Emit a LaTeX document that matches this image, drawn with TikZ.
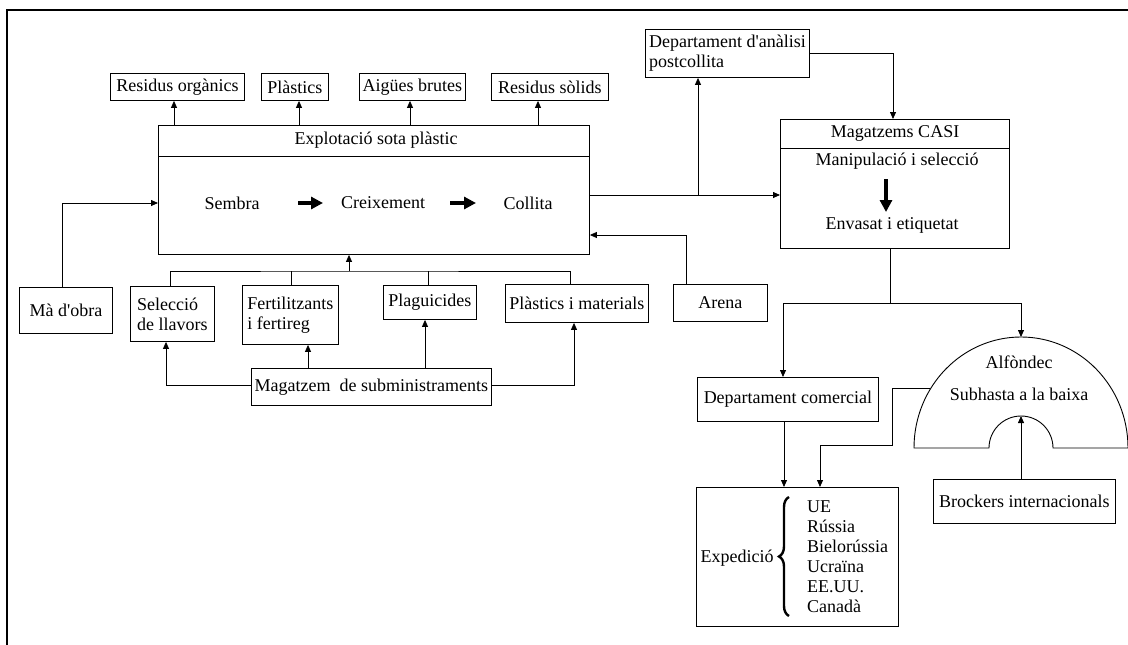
\documentclass[tikz,border=0pt]{standalone}
\usepackage{fontspec}
\setmainfont{Liberation Serif}
\usetikzlibrary{arrows.meta,decorations.pathreplacing}
\begin{document}
\begin{tikzpicture}[x=1pt,y=-1pt,
  font=\fontsize{18}{20}\selectfont,
  box/.style={draw, line width=0.9pt, inner sep=0pt, anchor=north west},
  conn/.style={line width=0.8pt, -{Triangle[length=7pt,width=6pt]}},
  plainline/.style={line width=0.8pt},
  fat/.style={line width=4.5pt, -{Triangle[length=12pt,width=12pt]}},
  lbl/.style={inner sep=0pt}
]
\useasboundingbox (0,0) rectangle (1128,645);
% outer frame (top and left)
\draw[line width=1.2pt] (6,10) -- (1128,10);
\draw[line width=1.2pt] (7,10) -- (7,645);

% top output boxes
\node[box, minimum width=134pt, minimum height=27pt] (ro) at (110,73) {Residus orgànics};
\node[box, minimum width=67pt, minimum height=27pt] (pl) at (261,73) {Plàstics};
\node[box, minimum width=106pt, minimum height=27pt] (ab) at (359,73) {Aigües brutes};
\node[box, minimum width=117pt, minimum height=27pt] (rs) at (491,73) {Residus sòlids};

% main box
\node[box, minimum width=431pt, minimum height=129pt] (expl) at (158,125) {};
\draw[line width=0.9pt] (expl.west |- 0,156) -- (expl.east |- 0,156);
\node[lbl] (expltitle) at (376,140) {Explotació sota plàstic};
\node[lbl] (sembra) at (232,203) {Sembra};
\node[lbl] (creix) at (383,203) {Creixement};
\node[lbl] (collita) at (528,203) {Collita};
\coordinate (f1s) at (298,203); \coordinate (f1e) at (323,203);
\coordinate (f2s) at (450,203); \coordinate (f2e) at (476,203);
\draw[fat] (f1s) -- (f1e);
\draw[fat] (f2s) -- (f2e);

% outputs
\draw[conn] (expl.north -| 174,0) -- (ro.south -| 174,0);
\draw[conn] (expl.north -| 299,0) -- (pl.south -| 299,0);
\draw[conn] (expl.north -| 410,0) -- (ab.south -| 410,0);
\draw[conn] (expl.north -| 538,0) -- (rs.south -| 538,0);

% inputs
\node[box, minimum width=93pt, minimum height=46pt] (mo) at (19,287) {Mà d\textquotesingle obra};
\node[box, minimum width=84pt, minimum height=55pt, align=left] (sl) at (130,286) {Selecció\\de llavors};
\node[box, minimum width=96pt, minimum height=59pt, align=left] (fe) at (242,285) {Fertilitzants\\i fertireg};
\node[box, minimum width=93pt, minimum height=34pt] (pg) at (383,285) {Plaguicides};
\node[box, minimum width=143pt, minimum height=38pt] (pm) at (505,284) {Plàstics i materials};
\node[box, minimum width=240pt, minimum height=37pt] (ms) at (251,368) {Magatzem~~de subministraments};
\node[box, minimum width=94pt, minimum height=37pt] (ar) at (673,284) {Arena};

\draw[conn] (mo.north -| 62,0) |- (expl.west |- 0,203);

\coordinate (bus) at (349,271);
\draw[conn] (bus) -- (expl.south -| bus);
\draw[plainline] (sl.north -| 170,0) |- (bus) -| (pm.north -| 570,0);
\draw[plainline] (fe.north -| 291,0) -- (bus -| 291,0);
\draw[plainline] (pg.north -| 428,0) -- (bus -| 428,0);

\draw[conn] (ms.west |- 0,385) -| (sl.south -| 166,0);
\draw[conn] (ms.north -| 308,0) -- (fe.south -| 308,0);
\draw[conn] (ms.north -| 425,0) -- (pg.south -| 425,0);
\draw[conn] (ms.east |- 0,385) -| (pm.south -| 574,0);

% right part
\node[box, minimum width=164pt, minimum height=48pt, align=left] (da) at (645,29) {Departament d\textquotesingle anàlisi\\postcollita};
\node[box, minimum width=229pt, minimum height=129pt] (mc) at (780,119) {};
\draw[line width=0.9pt] (mc.west |- 0,148) -- (mc.east |- 0,148);
\node[lbl] (mctitle) at (895,133) {Magatzems CASI};
\node[lbl] (manip) at (897,161) {Manipulació i selecció};
\node[lbl] (envas) at (892,225) {Envasat i etiquetat};
\coordinate (f3s) at (886,179); \coordinate (f3e) at (886,212);
\draw[fat] (f3s) -- (f3e);

\draw[conn] (expl.east |- 0,195) -- (mc.west |- 0,195);
\coordinate (brA) at (698,195);
\draw[conn] (brA) -- (da.south -| brA);
\draw[conn] (da.east |- 0,53) -| (mc.north -| 893,0);
\draw[conn] (ar.north -| 686,0) |- (expl.east |- 0,235);

\node[box, minimum width=181pt, minimum height=44pt] (dc) at (697,377) {Departament comercial};
\node[box, minimum width=202pt, minimum height=139pt] (ex) at (696,487) {};
\node[lbl] (expT) at (737,558) {Expedició};
\draw[decorate, decoration={brace, amplitude=10pt}, line width=2.4pt] (789,616) -- (789,497);
\node[lbl, anchor=west, align=left] (dest) at (807,557) {UE\\Rússia\\Bielorússia\\Ucraïna\\EE.UU.\\Canadà};
\node[box, minimum width=182pt, minimum height=44pt] (br) at (933,479) {Brockers internacionals};

% Alfondec half-dome
\draw[line width=0.9pt] (914,448) arc[start angle=180, end angle=0, x radius=107pt, y radius=111pt]
  -- (1053,448) arc[start angle=0, end angle=180, radius=32pt] -- cycle;
\coordinate (alfTop) at (1021,337);
\coordinate (alfIn) at (1021,416);
\coordinate (alfL) at (930,388);
\node[lbl] (alf1) at (1019,362) {Alfòndec};
\node[lbl] (alf2) at (1019,394) {Subhasta a la baixa};

\coordinate (split) at (890,303);
\draw[plainline] (mc.south -| split) -- (split);
\draw[conn] (split) -| (dc.north -| 783,0);
\draw[conn] (split) -| (alfTop);
\draw[conn] (dc.south -| 784,0) -- (ex.north -| 784,0);
\draw[conn] (alfL) -| (892,445) -| (ex.north -| 820,0);
\draw[conn] (br.north -| alfIn) -- (alfIn);
\end{tikzpicture}
\end{document}
